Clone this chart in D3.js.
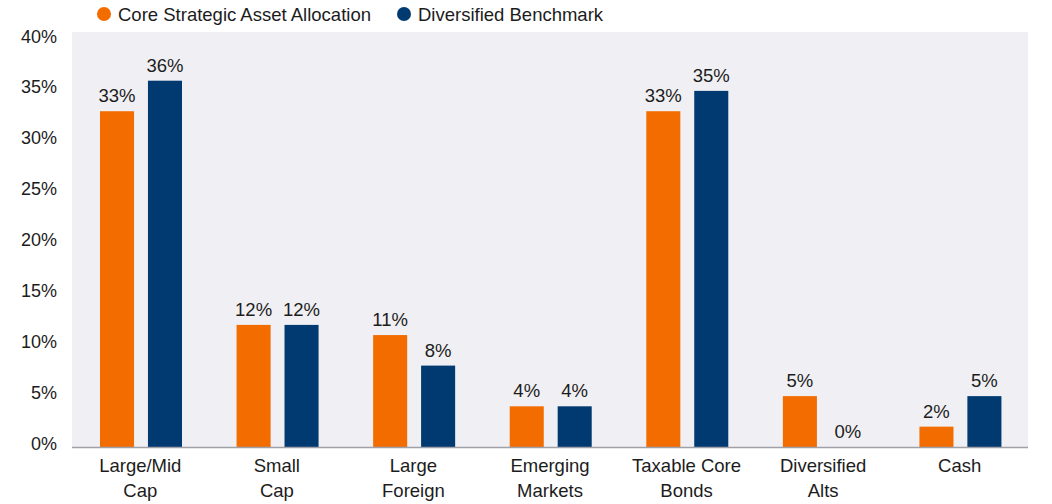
<!DOCTYPE html>
<html>
<head>
<meta charset="utf-8">
<script src="https://cdn.jsdelivr.net/npm/d3@7"></script>
<style>
  body { margin: 0; background: #fff; }
  text { font-family: "Liberation Sans", Arial, sans-serif; fill: #1c1c1c; }
</style>
</head>
<body>
<svg id="chart" width="1052" height="504"></svg>
<script>
const categories = [["Large/Mid", "Cap"], ["Small", "Cap"], ["Large", "Foreign"], ["Emerging", "Markets"],
                    ["Taxable Core", "Bonds"], ["Diversified", "Alts"], ["Cash"]];
const seriesNames = ["Core Strategic Asset Allocation", "Diversified Benchmark"];
const coreValues = [33, 12, 11, 4, 33, 5, 2];
const benchValues = [36, 12, 8, 4, 35, 0, 5];
const yTicks = [0, 5, 10, 15, 20, 25, 30, 35, 40];

const COLORS = ["#f26c00", "#003a70"];
const PLOT = { left: 72, right: 1028, top: 32, bottom: 447 };

const svg = d3.select("#chart");

const x = d3.scaleBand()
    .domain(d3.range(categories.length))
    .range([PLOT.left, PLOT.right])
    .padding(0);

const xInner = d3.scaleBand()
    .domain([0, 1])
    .range([28, 110])
    .paddingInner(0.29);

const y = d3.scaleLinear().domain([0, 40]).range([PLOT.bottom, 40]);

// plot background
svg.append("rect")
    .attr("x", PLOT.left)
    .attr("y", PLOT.top)
    .attr("width", PLOT.right - PLOT.left)
    .attr("height", PLOT.bottom - PLOT.top)
    .attr("fill", "#f0f0f4");

// y axis labels
svg.append("g")
    .selectAll("text")
    .data(yTicks)
    .join("text")
    .attr("x", 57)
    .attr("y", d => y(d) + 2.5)
    .attr("text-anchor", "end")
    .style("font-size", "18px")
    .text(d => d + "%");

// bars
const rows = categories.map((c, i) => [coreValues[i], benchValues[i]]);
const groups = svg.append("g")
    .selectAll("g")
    .data(rows)
    .join("g")
    .attr("transform", (d, i) => `translate(${x(i)},0)`);

groups.selectAll("rect")
    .data(d => d)
    .join("rect")
    .attr("x", (d, j) => xInner(j))
    .attr("y", d => y(d))
    .attr("width", xInner.bandwidth())
    .attr("height", d => y(0) - y(d))
    .attr("fill", (d, j) => COLORS[j]);

groups.selectAll("text")
    .data(d => d)
    .join("text")
    .attr("x", (d, j) => xInner(j) + xInner.bandwidth() / 2)
    .attr("y", d => y(d) - 9)
    .attr("text-anchor", "middle")
    .style("font-size", "18.5px")
    .text(d => d + "%");

// x axis line
svg.append("line")
    .attr("x1", PLOT.left)
    .attr("x2", PLOT.right)
    .attr("y1", PLOT.bottom + 0.5)
    .attr("y2", PLOT.bottom + 0.5)
    .attr("stroke", "#a0a0a8")
    .attr("stroke-width", 1.5);

// category labels
const catLabels = svg.append("g")
    .selectAll("text")
    .data(categories)
    .join("text")
    .attr("x", (d, i) => x(i) + x.bandwidth() / 2)
    .attr("y", 472)
    .attr("text-anchor", "middle")
    .style("font-size", "18.5px");

catLabels.selectAll("tspan")
    .data(d => d)
    .join("tspan")
    .attr("x", function () { return d3.select(this.parentNode).attr("x"); })
    .attr("dy", (d, j) => j === 0 ? 0 : 25)
    .text(d => d);

// legend
const legendX = [104, 404];
const legend = svg.append("g")
    .selectAll("g")
    .data(seriesNames)
    .join("g")
    .attr("transform", (d, i) => `translate(${legendX[i]},14)`);

legend.append("circle")
    .attr("r", 7)
    .attr("fill", (d, i) => COLORS[i]);

legend.append("text")
    .attr("x", 14)
    .attr("y", 6.5)
    .style("font-size", "18.5px")
    .text(d => d);
</script>
</body>
</html>
